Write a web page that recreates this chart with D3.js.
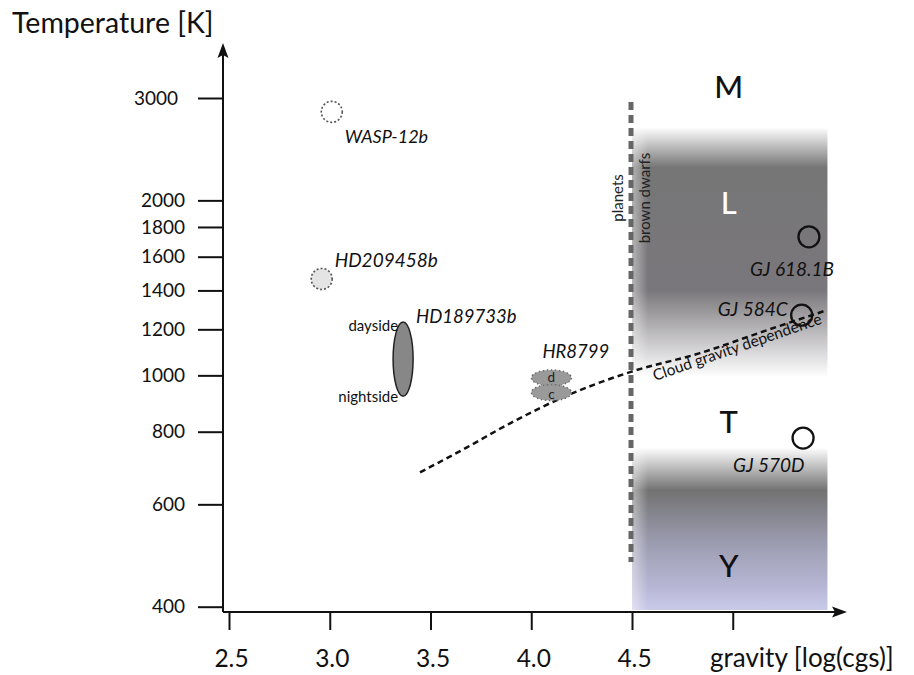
<!DOCTYPE html>
<html>
<head>
<meta charset="utf-8">
<script src="https://cdn.jsdelivr.net/npm/d3@7"></script>
<style>
  html, body { margin: 0; padding: 0; background: #fff; }
  svg { display: block; font-family: Lato, "Open Sans", sans-serif; }
</style>
</head>
<body>
<script>
// ---------- data ----------
const yTicks = [400, 600, 800, 1000, 1200, 1400, 1600, 1800, 2000, 3000];
const xTicks = [2.5, 3.0, 3.5, 4.0, 4.5, 5.0];
const xTickLabels = ["2.5", "3.0", "3.5", "4.0", "4.5", ""];

// hot Jupiters (dotted circles)
const hotNames = ["WASP-12b", "HD209458b"];
const hotGravity = [3.01, 2.96];
const hotTemp = [2840, 1465];
const hotFill = ["#ffffff", "#e4e4e4"];

// HD189733b day/night range
const hdName = "HD189733b";
const hdGravity = 3.364;
const hdTempRange = [921, 1235]; // nightside, dayside

// HR8799 planets
const hrName = "HR8799";
const hrPlanets = ["d", "c"];
const hrGravity = [4.10, 4.10];
const hrTemp = [990, 934];

// brown dwarf companions
const bdNames = ["GJ 618.1B", "GJ 584C", "GJ 570D"];
const bdGravity = [5.378, 5.342, 5.349];
const bdTemp = [1731, 1269, 780];

// cloud gravity dependence curve
const cloudGravity = [3.448, 3.681, 3.895, 4.128, 4.490, 4.837, 5.170, 5.468];
const cloudTemp = [681, 752, 827, 907, 1013, 1092, 1196, 1295];

// spectral classes
const spClasses = ["M", "L", "T", "Y"];
const spTemp = [3150, 1990, 835, 472];
const spGravity = 4.98;

// brown dwarf region
const bdRegionGravity = [4.5, 5.47];
const bdRegionTop = 2673;
// band boundaries (temperature) for the shading
const bandTemps = [2673, 2281, 1402, 993, 752, 634, 520, 430, 395];
const bandColors = ["#ffffff", "#767676", "#7a777c", "#ffffff", "#ffffff", "#727272", "#9a9aae", "#b8b8d6", "#c9c9e9"];

// ---------- drawing ----------
const W = 914, H = 675;
const svg = d3.select("body").append("svg").attr("width", W).attr("height", H);

const x = d3.scaleLinear().domain([2.5, 5.0]).range([229, 732.75]);
const y = d3.scaleLog().domain([400, 3000]).range([606.7, 98]);
const axisX = 223, axisY = 612;

const defs = svg.append("defs");
// vertical gradient for brown dwarf region
const regTop = y(bdRegionTop), regBot = axisY - 2;
const grad = defs.append("linearGradient").attr("id", "bdgrad")
  .attr("x1", 0).attr("y1", regTop).attr("x2", 0).attr("y2", regBot)
  .attr("gradientUnits", "userSpaceOnUse");
bandTemps.forEach((t, i) => {
  const yy = Math.min(regBot, y(t));
  grad.append("stop").attr("offset", (yy - regTop) / (regBot - regTop)).attr("stop-color", bandColors[i]);
});
const hgrad = defs.append("linearGradient").attr("id", "edgegrad")
  .attr("x1", 0).attr("x2", 1).attr("y1", 0).attr("y2", 0);
hgrad.append("stop").attr("offset", 0).attr("stop-color", "#fff").attr("stop-opacity", 0.45);
hgrad.append("stop").attr("offset", 1).attr("stop-color", "#fff").attr("stop-opacity", 0);

// region
svg.append("rect")
  .attr("x", x(bdRegionGravity[0])).attr("y", regTop)
  .attr("width", x(bdRegionGravity[1]) - x(bdRegionGravity[0]))
  .attr("height", regBot - regTop)
  .attr("fill", "url(#bdgrad)");
svg.append("rect")
  .attr("x", x(bdRegionGravity[0])).attr("y", regTop)
  .attr("width", 16).attr("height", regBot - regTop)
  .attr("fill", "url(#edgegrad)");

// spectral class letters
svg.selectAll("text.sp").data(spClasses).enter().append("text")
  .attr("class", "sp")
  .attr("x", x(spGravity)).attr("y", (d, i) => y(spTemp[i]))
  .attr("text-anchor", "middle").attr("dominant-baseline", "central")
  .attr("font-size", 31).attr("font-weight", 500)
  .attr("fill", d => d === "L" ? "#ffffff" : "#111")
  .text(d => d);

// planets / brown dwarfs divider
svg.append("line")
  .attr("x1", x(4.5) - 1).attr("x2", x(4.5) - 1)
  .attr("y1", 102).attr("y2", 562)
  .attr("stroke", "#666").attr("stroke-width", 5)
  .attr("stroke-dasharray", "8,5");
svg.append("text")
  .attr("transform", `translate(${x(4.5) - 15},198) rotate(-90)`)
  .attr("text-anchor", "middle").attr("dominant-baseline", "central")
  .attr("font-size", 15).attr("fill", "#222").text("planets");
svg.append("text")
  .attr("transform", `translate(${x(4.5) + 12},198) rotate(-90)`)
  .attr("text-anchor", "middle").attr("dominant-baseline", "central")
  .attr("font-size", 15).attr("fill", "#222").text("brown dwarfs");

// cloud gravity dependence curve
const line = d3.line().x((d, i) => x(cloudGravity[i])).y((d, i) => y(cloudTemp[i])).curve(d3.curveMonotoneX);
svg.append("path").attr("d", line(cloudGravity))
  .attr("fill", "none").attr("stroke", "#111").attr("stroke-width", 2.5)
  .attr("stroke-dasharray", "6,4");
svg.append("text")
  .attr("transform", `translate(655,381) rotate(-19)`)
  .attr("font-size", 15.5).attr("fill", "#111").text("Cloud gravity dependence");

// hot Jupiters
hotNames.forEach((n, i) => {
  svg.append("circle").attr("cx", x(hotGravity[i])).attr("cy", y(hotTemp[i])).attr("r", 10.5)
    .attr("fill", hotFill[i]).attr("stroke", "#555").attr("stroke-width", 1.6)
    .attr("stroke-dasharray", "2,2");
});
svg.append("text").attr("x", x(hotGravity[0]) + 13).attr("y", y(hotTemp[0]) + 31)
  .attr("font-size", 18).attr("font-style", "italic").attr("fill", "#111").text(hotNames[0]);
svg.append("text").attr("x", x(hotGravity[1]) + 13).attr("y", y(hotTemp[1]) - 12)
  .attr("font-size", 19).attr("font-style", "italic").attr("fill", "#111").text(hotNames[1]);

// HD189733b
const hdTop = y(hdTempRange[1]), hdBot = y(hdTempRange[0]);
svg.append("ellipse").attr("cx", x(hdGravity)).attr("cy", (hdTop + hdBot) / 2)
  .attr("rx", 10).attr("ry", (hdBot - hdTop) / 2)
  .attr("fill", "#878787").attr("stroke", "#222").attr("stroke-width", 1.5);
svg.append("text").attr("x", x(hdGravity) + 13).attr("y", hdTop + 1)
  .attr("font-size", 18.5).attr("font-style", "italic").attr("fill", "#111").text(hdName);
svg.append("text").attr("x", x(hdGravity) - 5).attr("y", hdTop + 9)
  .attr("text-anchor", "end").attr("font-size", 15).attr("fill", "#111").text("dayside");
svg.append("text").attr("x", x(hdGravity) - 5).attr("y", hdBot + 6)
  .attr("text-anchor", "end").attr("font-size", 15).attr("fill", "#111").text("nightside");

// HR8799
hrPlanets.forEach((p, i) => {
  svg.append("ellipse").attr("cx", x(hrGravity[i])).attr("cy", y(hrTemp[i]))
    .attr("rx", 20).attr("ry", 8)
    .attr("fill", "#9a9a9a").attr("stroke", "#6e6e6e").attr("stroke-width", 1.5)
    .attr("stroke-dasharray", "1.5,2.5");
  svg.append("text").attr("x", x(hrGravity[i])).attr("y", y(hrTemp[i]) + (i === 0 ? -1 : 1))
    .attr("text-anchor", "middle").attr("dominant-baseline", "central")
    .attr("font-size", 13.5).attr("fill", "#222").text(p);
});
svg.append("text").attr("x", x(hrGravity[0]) - 9).attr("y", y(hrTemp[0]) - 20)
  .attr("font-size", 18.5).attr("font-style", "italic").attr("fill", "#111").text(hrName);

// brown dwarf companions
const bdLabelDx = [-59, -84, -70];
const bdLabelDy = [39, 1, 34];
bdNames.forEach((n, i) => {
  svg.append("circle").attr("cx", x(bdGravity[i])).attr("cy", y(bdTemp[i])).attr("r", 10.5)
    .attr("fill", "none").attr("stroke", "#111").attr("stroke-width", 2.3);
  svg.append("text").attr("x", x(bdGravity[i]) + bdLabelDx[i]).attr("y", y(bdTemp[i]) + bdLabelDy[i])
    .attr("font-size", 19).attr("font-style", "italic").attr("fill", "#111").text(n);
});

// ---------- axes ----------
const yAxis = svg.append("g").attr("transform", `translate(${axisX},0)`)
  .call(d3.axisLeft(y).tickValues(yTicks).tickFormat(d3.format("d")).tickSize(25).tickPadding(13));
yAxis.select(".domain").remove();
yAxis.selectAll(".tick line").attr("stroke", "#111").attr("stroke-width", 2);
yAxis.selectAll(".tick text").attr("font-size", 19).attr("fill", "#111")
  .attr("font-family", "Lato, 'Open Sans', sans-serif")
  .attr("dx", d => d === 3000 ? -7 : 0);

const xAxis = svg.append("g").attr("transform", `translate(0,${axisY})`)
  .call(d3.axisBottom(x).tickValues(xTicks).tickFormat((d, i) => xTickLabels[i]).tickSize(18));
xAxis.select(".domain").remove();
xAxis.selectAll(".tick line").attr("stroke", "#111").attr("stroke-width", 2);
xAxis.selectAll(".tick text").attr("font-size", 24.5).attr("fill", "#111")
  .attr("font-family", "Lato, 'Open Sans', sans-serif")
  .attr("y", 55).attr("dy", 0).attr("dx", 2);

// axis lines with arrows
svg.append("line").attr("x1", axisX).attr("x2", axisX).attr("y1", 52).attr("y2", axisY)
  .attr("stroke", "#111").attr("stroke-width", 2);
svg.append("path").attr("d", `M${axisX},43 L${axisX + 5.5},58 L${axisX},55 L${axisX - 5.5},58 Z`).attr("fill", "#111");
svg.append("line").attr("x1", axisX).attr("x2", 838).attr("y1", axisY).attr("y2", axisY)
  .attr("stroke", "#111").attr("stroke-width", 2);
svg.append("path").attr("d", `M847,${axisY} L832,${axisY - 5.5} L835,${axisY} L832,${axisY + 5.5} Z`).attr("fill", "#111");

// axis titles
svg.append("text").attr("x", 12).attr("y", 33).attr("font-size", 28.5).attr("fill", "#111").text("Temperature [K]");
svg.append("text").attr("x", 710).attr("y", 667).attr("font-size", 26).attr("fill", "#111").text("gravity [log(cgs)]");
</script>
</body>
</html>
